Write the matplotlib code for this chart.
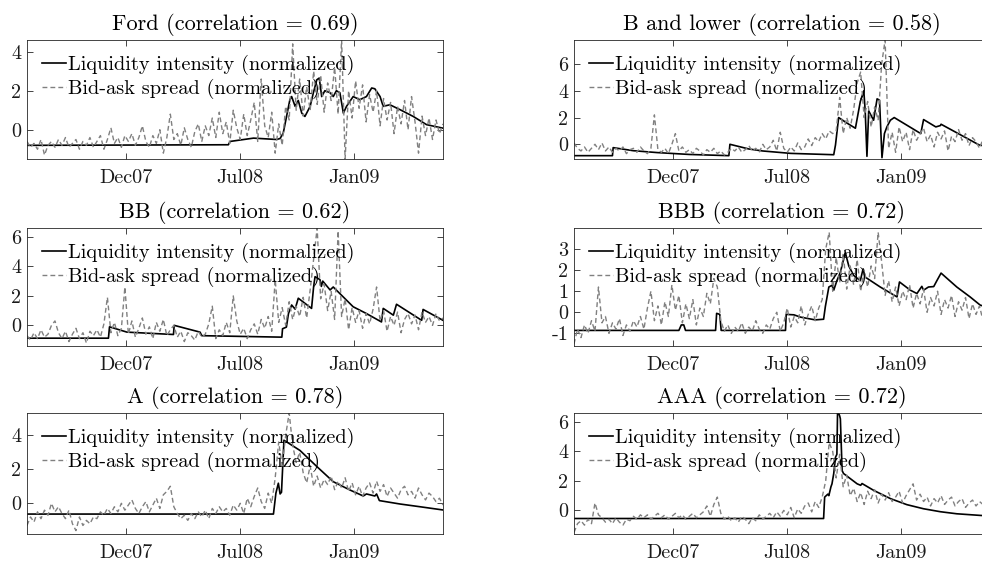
import numpy as np
import matplotlib
matplotlib.use('Agg')
import matplotlib.pyplot as plt

#LaTeX-like look without latex
plt.rcParams['font.family'] = 'cmr10'
plt.rcParams['axes.unicode_minus'] = False
plt.rcParams['mathtext.fontset'] = 'cm'

#panel names and correlations
names = ['Ford', 'B and lower', 'BB', 'BBB', 'A', 'AAA']
corrs = [0.69, 0.58, 0.62, 0.72, 0.78, 0.72]

#x tick labels (observation index)
tick_labels = ['Dec07', 'Jul08', 'Jan09']
tick_pos = [28.4, 61.0, 93.4]

#bid-ask spread (normalized)
ford_spread = [
  -0.6, -0.9, -0.7, -1.0, -0.5, -1.3, -0.8, -0.6, -0.9, -0.5,
  -0.8, -0.4, -0.9, -0.7, -0.5, -1.0, -0.6, -0.8, -0.4, -0.9,
  -0.6, -0.3, -1.0, -0.5, 0.1, -0.7, -0.4, -0.9, -0.3, -0.6,
  -0.2, -0.8, -0.4, 0.2, -0.6, -0.9, -0.3, -0.7, 0.0, -1.2,
  -0.4, 0.8, -0.5, -0.2, -0.8, 0.1, -0.5, -0.9, -0.1, 0.3,
  -0.6, 0.2, -0.3, 0.6, -0.4, 0.9, -0.2, 0.4, -0.7, 1.0,
  0.1, -0.5, 0.8, -0.3, 0.5, 1.4, -0.6, 2.6, 0.2, -0.4,
  0.9, -1.2, 0.3, -0.8, 1.2, 0.5, 4.4, 1.0, 2.6, 0.7,
  2.2, 1.0, 3.0, 1.3, 2.8, 0.9, 2.4, 1.5, 3.2, 0.8,
  4.6, -1.5, 2.0, 0.6, 2.5, 1.1, 2.3, 0.4, 1.8, 0.9,
  2.0, 0.2, 1.6, 0.5, 1.4, -0.2, 1.2, 0.3, 1.5, 0.0,
  1.7, 0.4, -1.2, 0.7, -0.3, 0.6, -0.5, 0.5, -0.2, 0.3]
blow_spread = [
  0.1, -0.3, -0.5, -0.2, -0.6, -0.3, 0.0, -0.4, 0.1, -0.5,
  -0.2, -0.6, -0.3, -0.5, -0.2, -0.7, -0.4, -0.3, -0.6, -0.2,
  -0.5, -0.7, -0.3, 2.2, -0.4, -0.6, -0.3, -0.7, 0.0, 0.8,
  -0.5, -0.2, -0.6, -0.4, -0.7, -0.3, -0.5, -0.8, -0.4, -0.6,
  -0.3, -0.7, -0.5, -0.8, -0.6, -0.3, -0.5, -0.2, -0.6, -0.4,
  -0.1, -0.5, -0.3, -0.6, 0.0, -0.4, -0.2, 0.3, -0.5, 0.9,
  -0.3, -0.6, -0.2, -0.5, 0.1, -0.4, -0.2, 0.4, -0.1, 0.5,
  0.2, 0.8, 0.4, 1.0, 0.8, 1.0, 3.5, 0.8, 2.0, 1.2,
  2.6, 4.6, 5.4, 2.0, 3.2, 1.3, 2.8, 1.8, 6.0, 7.8,
  -0.3, 0.9, -0.6, 1.3, 0.2, 0.9, -0.4, 1.1, 0.3, 0.8,
  1.2, 0.2, 0.7, -0.2, 0.9, 0.4, 1.0, -0.5, 0.6, 0.2,
  1.1, 0.3, 0.8, -0.1, 0.5, 0.2, -0.3, 0.4, 0.0, 0.2]
bb_spread = [
  -0.7, -1.0, -0.5, -0.9, -0.3, -0.8, -0.6, 0.0, 0.3, -0.5,
  -0.9, -0.4, -1.1, -0.6, -0.2, -0.9, -0.5, -1.2, -0.4, -0.7,
  -0.3, -0.8, 0.1, 1.9, -0.5, 0.2, -0.7, -0.2, 2.6, -0.6,
  0.3, -0.8, -0.2, 0.5, -0.6, -0.1, -0.9, 0.2, -0.4, 0.4,
  -0.7, -0.3, 0.0, -0.8, -0.4, -1.1, -0.5, -0.7, -1.0, -0.4,
  -0.8, -0.6, 0.1, 1.3, -0.9, -0.3, -0.7, 0.2, -0.5, 2.0,
  0.3, -0.6, -0.2, -0.9, -0.3, 0.1, -0.6, 0.4, -0.2, 0.6,
  -0.4, 3.1, 0.2, 1.2, 0.0, 1.6, 0.4, 1.3, 0.6, 1.9,
  0.5, 2.4, 4.5, 6.6, 1.8, 2.8, 1.0, 2.3, 0.4, 6.4,
  0.6, 1.8, -0.3, 1.2, 0.2, 1.0, -0.2, 0.8, 0.1, 1.1,
  2.6, 0.3, 1.0, -0.4, 0.6, 0.0, 0.9, -0.5, 0.4, 0.8,
  0.1, 0.7, -0.3, 0.9, 0.2, 0.6, 0.0, 0.8, 0.3, 0.5]
bbb_spread = [
  -1.5, -0.8, -1.2, -0.6, -1.0, -0.4, -0.9, 1.2, -0.5, -0.2,
  -1.0, -0.5, -0.8, -0.3, -1.1, -0.6, -0.9, -0.4, -0.7, -0.2,
  -0.8, 0.2, 1.0, -0.4, 0.3, -0.6, 0.5, -0.2, 1.3, 0.1,
  0.8, -0.5, 0.4, -0.3, 0.6, -0.6, 0.2, -0.2, 0.9, 0.4,
  1.6, 1.2, -0.4, -0.9, -0.6, -1.0, -0.7, -0.9, -0.5, -1.0,
  -0.7, -0.9, -0.4, -0.8, -1.0, -0.6, -0.8, -0.3, 0.0, -0.9,
  -0.5, 0.2, -0.7, -0.2, -0.5, 0.3, -0.6, -0.1, 0.3, -0.4,
  0.2, 0.6, 3.0, 3.8, 1.0, 2.6, 1.4, 2.8, 1.1, 2.2,
  1.3, 2.5, 1.0, 2.0, 1.2, 2.2, 1.6, 3.8, 2.4, 0.8,
  1.5, 0.5, 1.2, 0.3, 1.0, 0.6, 1.3, 0.2, 0.9, 0.4,
  1.1, 0.0, 0.7, 0.3, 1.0, -0.1, 0.6, 0.2, 0.8, -0.2,
  0.5, 0.1, 0.7, -0.3, 0.4, -0.1, 0.3, -0.4, 0.2, 0.0]
a_spread = [
  -1.3, -0.8, -1.1, -0.5, -0.9, -0.4, -0.7, 0.0, -0.5, -0.2,
  -0.6, -0.9, -0.4, -1.2, -1.6, -0.8, -1.3, -1.0, -1.2, -0.8,
  -0.9, -0.5, -0.7, -0.3, -0.6, -0.2, -0.5, 0.0, -0.4, -0.1,
  0.2, -0.3, -0.6, -0.2, 0.1, -0.5, -0.1, 0.3, -0.3, 0.5,
  0.7, 1.0, -0.2, -0.6, -0.9, -0.7, -1.0, -0.6, -0.9, -0.5,
  -0.8, -0.4, -0.9, -0.3, -0.6, -0.2, -0.5, -0.3, -0.7, -0.1,
  -0.4, 0.0, -0.6, 0.3, -0.2, 0.4, 0.9, 0.1, -0.3, 0.6,
  0.0, 1.5, 3.6, 2.2, 4.0, 5.3, 3.4, 2.4, 3.0, 1.8,
  1.2, 2.2, 1.0, 1.6, 0.9, 1.4, 1.1, 1.6, 0.8, 1.3,
  0.9, 1.5, 0.7, 1.2, 0.5, 1.0, 0.4, 0.9, 1.2, 0.6,
  1.3, 0.7, 1.1, 0.4, 0.9, 0.6, 0.3, 0.8, 1.0, 0.5,
  0.7, 0.3, 0.9, 0.5, 0.2, 0.6, 0.4, 0.1, 0.3, -0.1]
aaa_spread = [
  -1.5, -0.9, -0.7, -1.0, -0.6, -0.9, 0.5, -0.3, -0.5, -0.8,
  -0.6, -0.9, -0.5, -0.8, -1.0, -0.6, -0.7, -0.4, -0.6, -0.3,
  -0.5, -0.3, -0.6, -0.4, -0.2, -0.5, -0.3, -0.6, -0.4, -0.2,
  -0.5, -0.3, -0.6, -0.4, -0.2, -0.5, -0.3, -0.1, 0.3, -0.4,
  0.4, 0.9, -0.2, -0.6, -0.4, -0.7, -0.5, -0.8, -0.4, -0.6,
  -0.9, -0.5, -0.7, -0.3, -0.6, -0.4, -0.2, -0.5, -0.1, -0.4,
  0.0, -0.3, 0.2, -0.5, 0.1, -0.2, 0.3, 0.5, -0.1, 0.6,
  0.2, 0.9, 2.0, 4.6, 4.0, 2.2, 3.8, 1.6, 2.4, 1.0,
  1.5, 0.6, 1.2, 0.4, 1.3, 0.8, 1.4, 0.5, 1.1, 0.7,
  1.2, 0.6, 0.9, 1.3, 0.5, 1.0, 1.4, 1.8, 0.7, 1.1,
  0.6, 0.9, 0.3, 0.8, 0.5, 1.0, 0.4, 0.7, 0.9, 0.3,
  0.6, 0.8, 0.2, 0.5, 0.7, 0.3, 0.6, 0.4, 0.2, 0.5]

#liquidity intensity (normalized): breakpoints
ford_liq_x = [0, 57.6, 58.1, 64.8, 71.4, 72.4, 73.3, 75.2, 75.7, 76.7, 77.6, 78.6,
  79.5, 81.0, 81.9, 82.9, 83.6, 84.3, 85.2, 86.7, 87.6, 88.5, 89.5, 90.5, 91.4,
  93.3, 95.2, 97.1, 98.6, 99.5, 101.0, 101.9, 103.8, 106.7, 110.5, 114.3, 119]
ford_liq_y = [-0.8, -0.77, -0.6, -0.43, -0.5, -0.45, -0.17, 1.54, 1.7, 1.2, 1.5, 0.85,
  0.68, 1.2, 1.88, 2.56, 2.65, 1.7, 2.0, 1.9, 1.7, 2.0, 1.9, 0.85, 1.2,
  1.7, 1.54, 1.7, 2.14, 2.1, 1.7, 1.2, 1.28, 1.03, 0.68, 0.26, 0.08]
blow_liq_x = [0, 11.0, 11.2, 17, 23.8, 33, 44.3, 44.6, 50, 54, 62, 74.3, 74.8, 75.7,
  78, 80.5, 81.9, 82.9, 83.3, 83.8, 84.3, 85.7, 86.7, 87.4, 87.8, 88.1, 88.8,
  89.5, 90.5, 91.6, 99.2, 100, 103.5, 104.8, 105, 115.9, 119]
blow_liq_y = [-0.85, -0.85, -0.25, -0.48, -0.62, -0.76, -0.85, 0.0, -0.35, -0.5, -0.68,
  -0.78, -0.05, 2.0, 1.6, 1.2, 3.2, 4.0, 2.5, -0.9, 2.5, 1.8, 3.4, 3.3, 0.8, -1.0,
  0.8, 1.3, 1.8, 2.0, 0.8, 1.85, 1.3, 1.4, 1.5, -0.05, -0.2]
bb_liq_x = [0, 23.3, 23.6, 28.6, 41.9, 42.1, 49.5, 50.0, 72.9, 73.1, 74.2, 74.8, 75.7,
  76.7, 77.6, 81.4, 82.0, 82.4, 83.8, 84.2, 84.6, 86.7, 87.6, 93.3, 97.1, 101.4,
  101.9, 104.8, 105.7, 112.9, 113.3, 119]
bb_liq_y = [-0.87, -0.87, -0.1, -0.46, -0.62, 0.0, -0.46, -0.7, -0.8, -0.23, -0.12,
  0.8, 1.38, 1.1, 1.84, 1.15, 2.64, 3.3, 3.1, 2.64, 3.0, 2.4, 2.6, 1.26, 0.8, 0.23,
  1.15, 0.69, 1.43, 0.34, 1.08, 0.34]
bbb_liq_x = [0, 30.0, 30.7, 31.4, 31.9, 40.5, 40.8, 41.7, 42.1, 60.5, 60.7, 62.9,
  64.8, 69, 71.4, 71.9, 72.9, 73.8, 74.3, 75.2, 76.2, 77.6, 78.6, 80.0, 81.9, 82.7,
  83.3, 87.6, 92.4, 93.1, 96.2, 98.1, 99.5, 100.0, 101.4, 102.9, 103.8, 105,
  109.5, 113.3, 116.2, 119]
bbb_liq_y = [-0.86, -0.86, -0.6, -0.6, -0.86, -0.86, -0.05, -0.1, -0.86, -0.86, -0.1,
  -0.12, -0.23, -0.36, -0.33, 0.27, 1.2, 1.28, 1.05, 1.5, 1.9, 2.84, 2.2, 1.75,
  1.5, 2.06, 1.67, 1.2, 0.73, 1.44, 1.05, 0.89, 1.23, 1.05, 1.2, 1.22, 1.5, 1.86,
  1.2, 0.73, 0.34, 0.2]
a_liq_x = [0, 70.5, 71.2, 71.9, 72.4, 72.8, 73.1, 73.5, 74.3, 78.1, 82.9, 87.6,
  92.4, 96.2, 97.1, 99.5, 100.0, 100.8, 106.7, 112.4, 119]
a_liq_y = [-0.63, -0.63, 0.6, 1.18, 0.55, 0.65, 1.96, 3.7, 3.6, 3.1, 2.16, 1.27,
  0.78, 0.43, 0.55, 0.43, 0.55, 0.16, -0.04, -0.2, -0.39]
aaa_liq_x = [0, 71.4, 71.7, 72.6, 72.9, 73.5, 73.8, 74.3, 74.8, 75.2, 75.4, 76.0,
  76.2, 76.7, 77.1, 81.0, 82.0, 82.4, 85.7, 90.5, 95.2, 100, 104.8, 109.5, 116.2, 119]
aaa_liq_y = [-0.55, -0.55, 0.9, 1.1, 1.0, 1.6, 1.8, 2.5, 3.6, 3.8, 6.8, 6.4, 6.2,
  2.7, 2.5, 1.8, 1.7, 1.82, 1.36, 0.8, 0.39, 0.11, -0.09, -0.23, -0.34, -0.38]

spreads = [ford_spread, blow_spread, bb_spread, bbb_spread, a_spread, aaa_spread]
liq_x = [ford_liq_x, blow_liq_x, bb_liq_x, bbb_liq_x, a_liq_x, aaa_liq_x]
liq_y = [ford_liq_y, blow_liq_y, bb_liq_y, bbb_liq_y, a_liq_y, aaa_liq_y]
ylims = [(-1.5, 4.6), (-1.1, 7.8), (-1.4, 6.6), (-1.6, 4.0), (-1.8, 5.3), (-1.6, 6.6)]
yticks = [[0, 2, 4], [0, 2, 4, 6], [0, 2, 4, 6], [-1, 0, 1, 2, 3], [0, 2, 4], [0, 2, 4, 6]]

#figure layout in pixels
W, H = 982., 562.
fig = plt.figure(figsize=(W/100, H/100), dpi=100)
col_left = [27, 574]
ax_w = 416
row_top = [40, 228, 413]
row_bot = [159, 346, 534]
axcol = '#262626'
fs = 14.5

for i in range(6):
  r, c = divmod(i, 2)
  ax = fig.add_axes([col_left[c]/W, 1 - row_bot[r]/H, ax_w/W, (row_bot[r]-row_top[r])/H])
  x = np.arange(len(spreads[i]))
  ax.plot(liq_x[i], liq_y[i], color='k', lw=1.2, label='Liquidity intensity (normalized)')
  ax.plot(x, spreads[i], color='#808080', lw=1.0, dashes=(3.5, 2.2),
    label='Bid-ask spread (normalized)')
  ax.set_xlim(0, 119)
  ax.set_ylim(*ylims[i])
  ax.set_xticks(tick_pos)
  ax.set_xticklabels(tick_labels)
  ax.set_yticks(yticks[i])
  ax.set_yticklabels([str(t) for t in yticks[i]])
  ax.tick_params(direction='in', top=True, right=True, length=4, width=0.6,
    colors=axcol, labelsize=fs, labelcolor='#1a1a1a')
  ax.tick_params(axis='x', pad=7)
  ax.tick_params(axis='y', pad=4)
  for s in ax.spines.values():
    s.set_color(axcol)
    s.set_linewidth(0.6)
  ax.set_title('%s (correlation = %.2f)' % (names[i], corrs[i]), fontsize=16, pad=7)
  ax.legend(loc='upper left', bbox_to_anchor=(0.012, 0.96), frameon=False,
    fontsize=14.7, handlelength=1.15, handletextpad=0.1, labelspacing=0.2,
    borderaxespad=0.3, borderpad=0.2)

fig.savefig('out.png', dpi=100)
